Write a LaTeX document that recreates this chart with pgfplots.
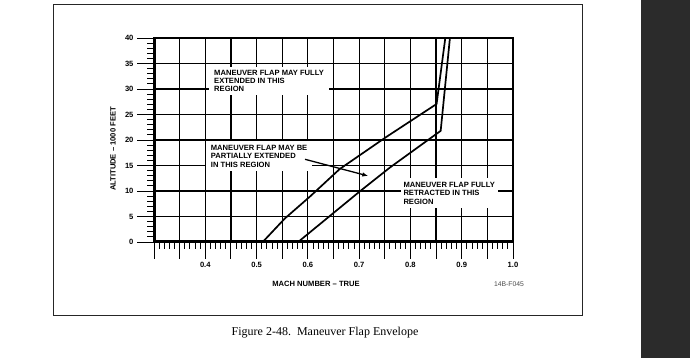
\documentclass[border=0pt]{standalone}
\usepackage{fontspec}
\setmainfont{Liberation Serif}
\setsansfont{Liberation Sans}
\usepackage{pgfplots}
\pgfplotsset{compat=1.18}
\usetikzlibrary{arrows.meta}
\newcommand{\lbl}{\sffamily\bfseries\fontsize{7.6}{8.5}\selectfont}
\begin{document}
\begin{tikzpicture}[x=1pt,y=1pt]
\fill[white] (0,0) rectangle (690,358);
\fill[black!83] (641,0) rectangle (690,358);
\draw[line width=1pt, black!85] (53,42) rectangle (582,353);
\begin{axis}[
  at={(154pt,116pt)}, anchor=south west,
  scale only axis, width=359pt, height=204pt,
  xmin=0.3, xmax=1.0, ymin=0, ymax=40,
  xtick={0.3,0.35,0.4,0.45,0.5,0.55,0.6,0.65,0.7,0.75,0.8,0.85,0.9,0.95,1.0},
  xticklabels={,,0.4,,0.5,,0.6,,0.7,,0.8,,0.9,,1.0},
  ytick={0,5,10,15,20,25,30,35,40},
  minor x tick num=4, minor y tick num=4,
  tick align=outside,
  xtick pos=bottom, ytick pos=left,
  major tick length=17pt, minor tick length=7pt,
  every tick/.style={black, line width=0.9pt},
  grid=major,
  major grid style={black, line width=1.2pt},
  axis line style={black, line width=1.2pt},
  tick label style={font=\lbl},
  /pgf/number format/assume math mode=true,
]
\addplot[black, line width=1.7pt] coordinates {(0.512,0) (0.555,4.6) (0.604,8.9) (0.662,14.3) (0.753,20.6) (0.851,27.06) (0.868,40)};
\addplot[black, line width=1.7pt] coordinates {(0.581,0) (0.701,9.9) (0.76,14.6) (0.859,21.8) (0.877,40)};
\draw[line width=3pt] (rel axis cs:0,0) -- (rel axis cs:1,0);
\draw[line width=3pt] (rel axis cs:0,0) -- (rel axis cs:0,1);
\end{axis}
\node[anchor=north west, fill=white, inner xsep=5pt, inner ysep=4pt, align=left, font=\sffamily\bfseries\fontsize{7.6}{7.6}\selectfont] at (209,358-66.5) {MANEUVER FLAP MAY FULLY\\EXTENDED IN THIS\\REGION};
\node[anchor=north west, fill=white, inner xsep=5pt, inner ysep=4pt, align=left, font=\lbl] at (205.7,358-140.6) {MANEUVER FLAP MAY BE\\PARTIALLY EXTENDED\\IN THIS REGION};
\node[anchor=north west, fill=white, inner xsep=3pt, inner ysep=4pt, align=left, font=\lbl] at (400.3,358-177.6) {MANEUVER FLAP FULLY\\RETRACTED IN THIS\\REGION};
\draw[line width=1.3pt, -{Latex[length=6pt,width=4.5pt]}] (305,358-159.3) -- (368.3,358-176);
\node[rotate=90, font=\lbl] at (113,358-149) {ALTITUDE – 1000 FEET};
\node[font=\lbl] at (316,358-284.3) {MACH NUMBER – TRUE};
\node[font=\sffamily\fontsize{6.8}{7}\selectfont, text=black!70] at (509,358-284) {14B-F045};
\node[font=\rmfamily\fontsize{12}{14}\selectfont] at (325,358-333) {Figure 2-48.\ \ Maneuver Flap Envelope};
\end{tikzpicture}
\end{document}
